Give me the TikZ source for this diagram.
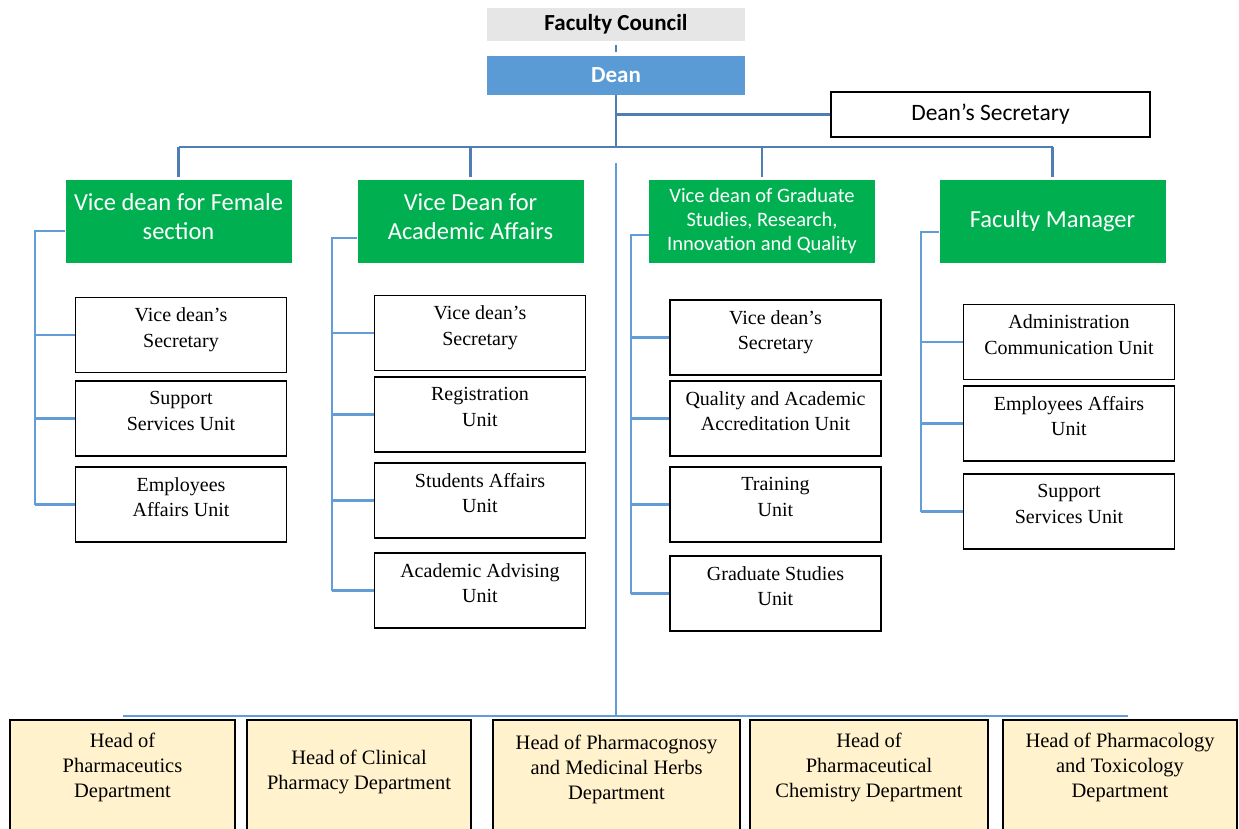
\documentclass[tikz,border=0pt]{standalone}
\usepackage{fontspec}
\setmainfont{Liberation Serif}
\setsansfont{Carlito}
\usetikzlibrary{positioning,calc}

\definecolor{councilgray}{RGB}{231,230,230}
\definecolor{deanblue}{RGB}{91,155,213}
\definecolor{vdgreen}{RGB}{0,176,80}
\definecolor{headyellow}{RGB}{255,242,204}
\definecolor{trunkblue}{RGB}{80,126,180}
\definecolor{linkblue}{RGB}{98,157,216}

\begin{document}
\begin{tikzpicture}[
    x=1pt,y=-1pt,
    council/.style={
        fill=councilgray,
        minimum width=258pt,
        minimum height=33pt,
        inner sep=0pt,
        font=\sffamily\bfseries\fontsize{23}{27}\selectfont
    },
    dean/.style={council,fill=deanblue,text=white,minimum height=39pt},
    secbox/.style={
        draw,line width=1.6pt,
        minimum width=319pt,minimum height=45pt,
        font=\sffamily\fontsize{23.5}{27}\selectfont
    },
    vdbox/.style={
        fill=vdgreen,text=white,align=center,
        minimum width=226pt,minimum height=83pt,inner sep=0pt,
        font=\sffamily\fontsize{24.5}{29}\selectfont
    },
    unitbox/.style={
        draw,line width=1.6pt,align=center,
        minimum width=211pt,minimum height=75pt,inner sep=0pt,
        text depth=15pt,
        font=\fontsize{20}{25.5}\selectfont
    },
    headbox/.style={
        draw,line width=1.6pt,fill=headyellow,align=center,
        minimum height=120pt,inner sep=0pt,
        text depth=30pt,
        font=\fontsize{20.5}{25}\selectfont
    },
    trunk/.style={draw=trunkblue,line width=2.8pt},
    link/.style={draw=linkblue,line width=2.3pt}
]
  \useasboundingbox (0,0) rectangle (1239,828);
  \clip (0,0) rectangle (1239,828);

  % top of the chart
  \node[council] (council) at (616,24.5) {Faculty Council};
  \node[dean] (dean) at (616,75.5) {Dean};
  \node[secbox] (deansec) at (990.5,114.5) {Dean’s Secretary};

  \coordinate (topbus) at (616,147);
  \coordinate (trunkgap) at (616,163);
  \coordinate (bus) at (616,716);

  % vice deans
  \node[vdbox,text depth=10pt] (vd1) at (178.5,221.5) {Vice dean for Female\\section};
  \node[vdbox,text depth=10pt] (vd2) at (470.5,221.5) {Vice Dean for\\Academic Affairs};
  \node[vdbox,font=\sffamily\fontsize{20.5}{24}\selectfont] (vd3) at (762,221.5)
    {Vice dean of Graduate\\Studies, Research,\\Innovation and Quality};
  \node[vdbox] (vd4) at (1052.5,221.5) {Faculty Manager};

  % units
  \node[unitbox] (u11) at (181,335) {Vice dean’s\\Secretary};
  \node[unitbox] (u12) at (181,418.5) {Support\\Services Unit};
  \node[unitbox] (u13) at (181,504.5) {Employees\\Affairs Unit};

  \node[unitbox] (u21) at (480,333) {Vice dean’s\\Secretary};
  \node[unitbox] (u22) at (480,414.5) {Registration\\Unit};
  \node[unitbox] (u23) at (480,500.5) {Students Affairs\\Unit};
  \node[unitbox] (u24) at (480,590.5) {Academic Advising\\Unit};

  \node[unitbox] (u31) at (775.5,337.5) {Vice dean’s\\Secretary};
  \node[unitbox] (u32) at (775.5,418.5) {Quality and Academic\\Accreditation Unit};
  \node[unitbox] (u33) at (775.5,504.5) {Training\\Unit};
  \node[unitbox] (u34) at (775.5,593.5) {Graduate Studies\\Unit};

  \node[unitbox] (u41) at (1069,342) {Administration\\Communication Unit};
  \node[unitbox] (u42) at (1069,423.5) {Employees Affairs\\Unit};
  \node[unitbox] (u43) at (1069,511.5) {Support\\Services Unit};

  % departments
  \node[headbox,minimum width=225pt] (h1) at (122.5,780) {Head of\\Pharmaceutics\\Department};
  \node[headbox,minimum width=224pt,text depth=20pt] (h2) at (359,780) {Head of Clinical\\Pharmacy Department};
  \node[headbox,minimum width=247pt,text depth=26pt] (h3) at (616.5,780) {Head of Pharmacognosy\\and Medicinal Herbs\\Department};
  \node[headbox,minimum width=238pt] (h4) at (869,780) {Head of\\Pharmaceutical\\Chemistry Department};
  \node[headbox,minimum width=234pt] (h5) at (1120,780) {Head of Pharmacology\\and Toxicology\\Department};

  % trunk lines
  \draw[trunk,shorten <=4pt,shorten >=4pt] (council.south) -- (dean.north);
  \draw[trunk] (dean.south) -- (topbus);
  \draw[trunk] (dean.south |- deansec.west) -- (deansec.west);
  \draw[trunk] (vd1.north |- topbus) -- (vd4.north |- topbus);
  \foreach \vd in {vd1,vd2,vd3,vd4}
    \draw[trunk,shorten >=3pt] (\vd.north |- topbus) -- (\vd.north);

  % brackets for the units
  \coordinate (b1) at (35,231);
  \coordinate (b2) at (332,238);
  \coordinate (b3) at (631,235);
  \coordinate (b4) at (921,232);
  \draw[link] (vd1.west |- b1) -- (b1) -- (b1 |- u13.west);
  \draw[link] (vd2.west |- b2) -- (b2) -- (b2 |- u24.west);
  \draw[link] (vd3.west |- b3) -- (b3) -- (b3 |- u34.west);
  \draw[link] (vd4.west |- b4) -- (b4) -- (b4 |- u43.west);
  \foreach \u in {u11,u12,u13}
    \draw[link] (b1 |- \u.west) -- (\u.west);
  \foreach \u in {u21,u22,u23,u24}
    \draw[link] (b2 |- \u.west) -- (\u.west);
  \foreach \u in {u31,u32,u33,u34}
    \draw[link] (b3 |- \u.west) -- (\u.west);
  \foreach \u in {u41,u42,u43}
    \draw[link] (b4 |- \u.west) -- (\u.west);

  % departments bus
  \draw[link] (trunkgap) -- (bus);
  \draw[link] (h1.north |- bus) -- ([xshift=8pt]h5.north |- bus);
\end{tikzpicture}
\end{document}
